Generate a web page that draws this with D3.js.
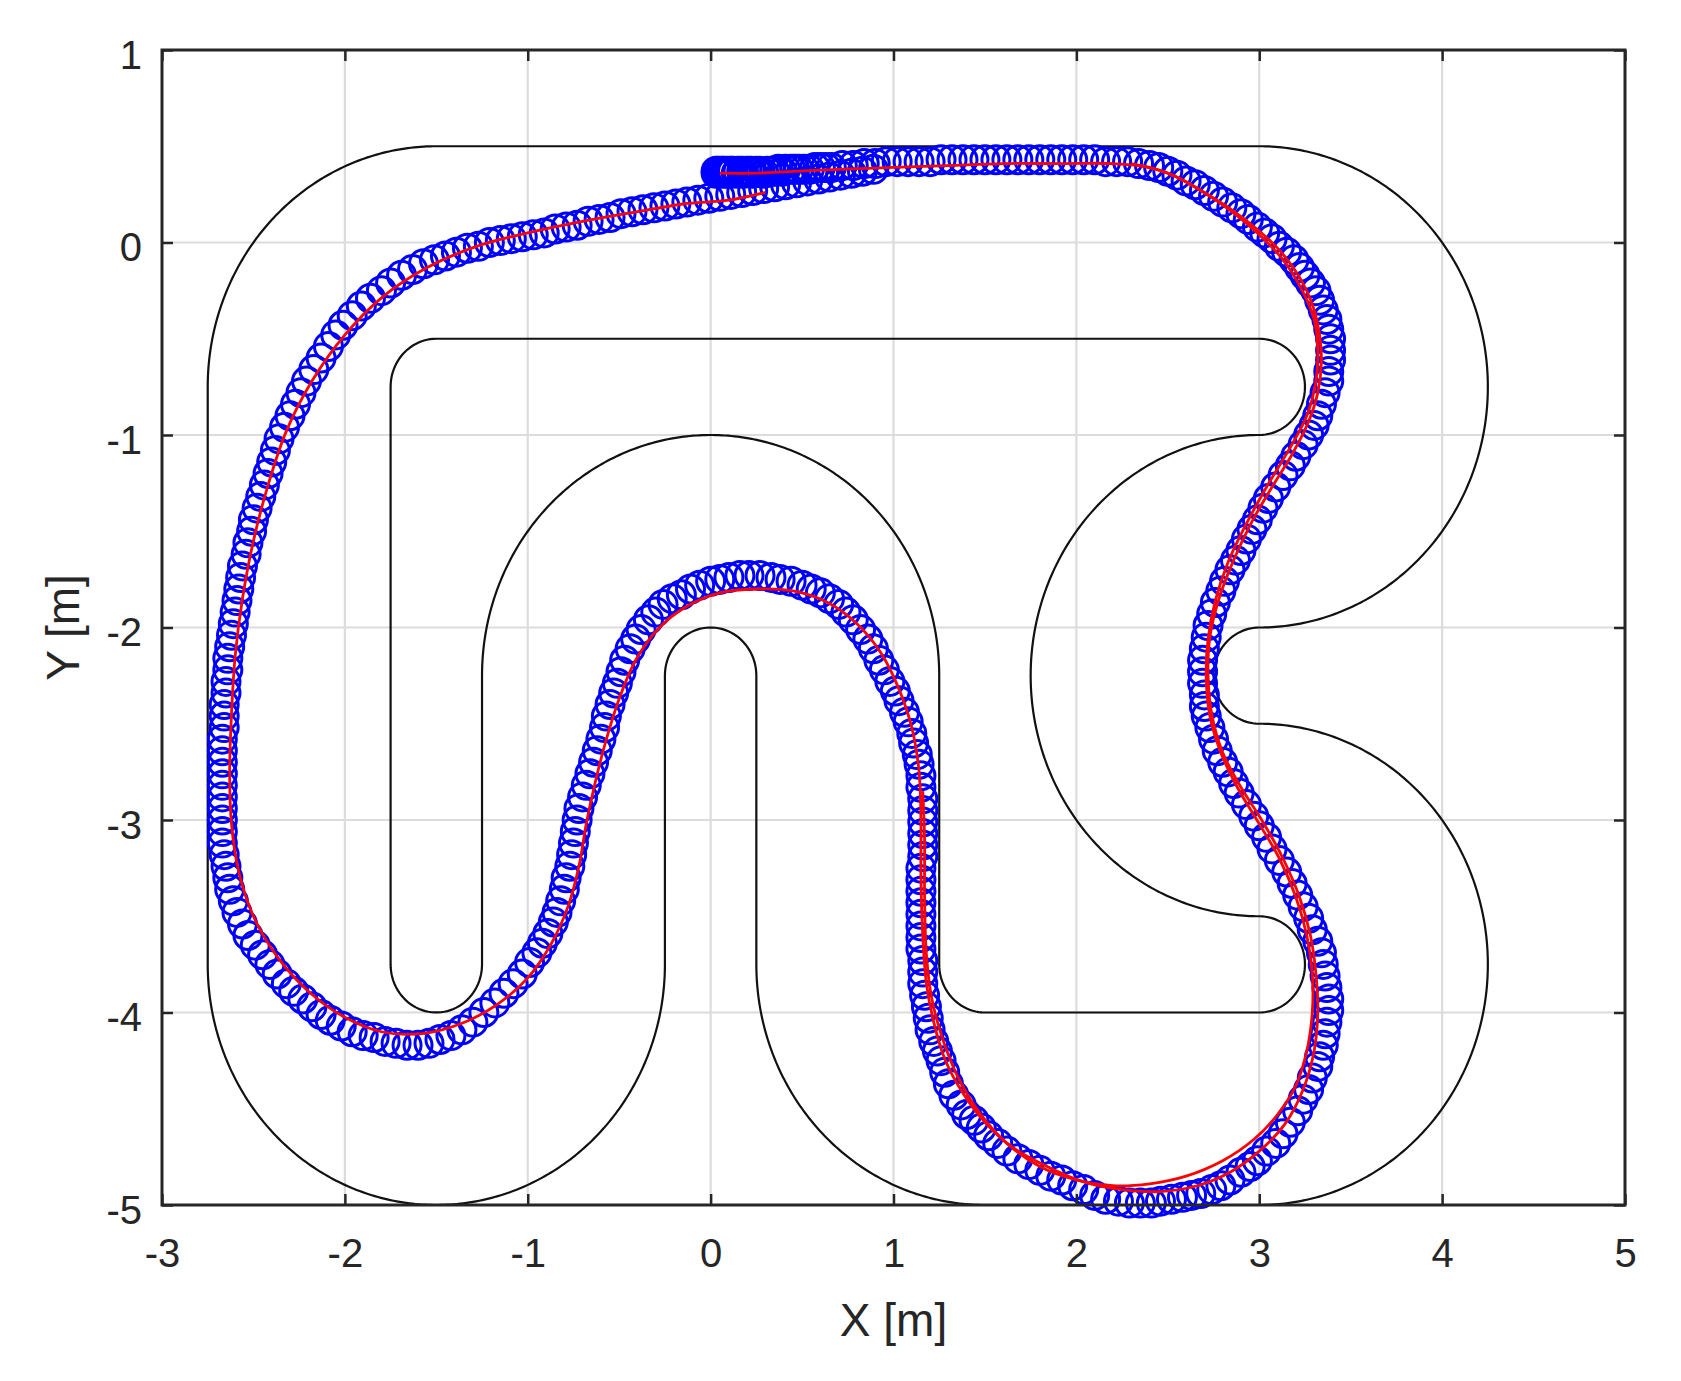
<!DOCTYPE html>
<html><head><meta charset="utf-8">
<script src="https://cdn.jsdelivr.net/npm/d3@7"></script>
<style>body{margin:0;background:#fff}svg{display:block}</style>
</head><body>
<svg id="chart" width="1681" height="1381"></svg>
<script>
// ---------- data ----------
const xDomain = [-3, 5];
const yDomain = [-5, 1];
const xTicks = [-3, -2, -1, 0, 1, 2, 3, 4, 5];
const yTicks = [1, 0, -1, -2, -3, -4, -5];
const xLabel = "X [m]";
const yLabel = "Y [m]";

// track boundaries: ["L", x1,y1,x2,y2] line, ["A", cx,cy,r,startDeg,endDeg] arc
const outerTrack = [
  ["L", -1.5, 0.5, 3, 0.5],
  ["A", 3, -0.75, 1.25, 90, -90],
  ["A", 3, -2.25, 0.25, 90, 270],
  ["A", 3, -3.75, 1.25, 90, -90],
  ["L", 3, -5, 1.5, -5],
  ["A", 1.5, -3.75, 1.25, -90, -180],
  ["L", 0.25, -3.75, 0.25, -2.25],
  ["A", 0, -2.25, 0.25, 0, 180],
  ["L", -0.25, -2.25, -0.25, -3.75],
  ["A", -1.5, -3.75, 1.25, 0, -180],
  ["L", -2.75, -3.75, -2.75, -0.75],
  ["A", -1.5, -0.75, 1.25, 180, 90]
];
const innerTrack = [
  ["L", -1.5, -0.5, 3, -0.5],
  ["A", 3, -0.75, 0.25, 90, -90],
  ["A", 3, -2.25, 1.25, 90, 270],
  ["A", 3, -3.75, 0.25, 90, -90],
  ["L", 3, -4, 1.5, -4],
  ["A", 1.5, -3.75, 0.25, -90, -180],
  ["L", 1.25, -3.75, 1.25, -2.25],
  ["A", 0, -2.25, 1.25, 0, 180],
  ["L", -1.25, -2.25, -1.25, -3.75],
  ["A", -1.5, -3.75, 0.25, 0, -180],
  ["L", -1.75, -3.75, -1.75, -0.75],
  ["A", -1.5, -0.75, 0.25, 180, 90]
];

// red trajectory, lap 1 (full loop) and lap 2 (right-hand part)
const redLap1 = [
  [0.05,0.36],[0.25,0.36],[0.45,0.37],[0.7,0.38],[1.0,0.39],[1.3,0.40],[1.6,0.41],[1.9,0.41],[2.2,0.41],[2.4,0.39],
  [2.55,0.34],[2.7,0.26],[2.85,0.17],[3.0,0.06],[3.12,-0.05],[3.22,-0.18],[3.29,-0.32],[3.33,-0.48],[3.34,-0.62],
  [3.32,-0.78],[3.27,-0.93],[3.18,-1.1],[3.07,-1.27],[2.96,-1.45],[2.86,-1.65],[2.78,-1.85],[2.73,-2.05],[2.72,-2.25],
  [2.74,-2.45],[2.8,-2.65],[2.9,-2.83],[3.02,-3.01],[3.13,-3.2],[3.22,-3.4],[3.28,-3.6],[3.31,-3.8],[3.32,-4.0],
  [3.3,-4.2],[3.24,-4.4],[3.14,-4.58],[3.0,-4.72],[2.84,-4.83],[2.66,-4.9],[2.46,-4.93],[2.25,-4.92],[2.04,-4.88],
  [1.84,-4.8],[1.65,-4.7],[1.5,-4.57],[1.38,-4.42],[1.28,-4.24],[1.22,-4.05],[1.18,-3.85],[1.16,-3.6],[1.15,-3.3],
  [1.15,-3.0],[1.14,-2.75],[1.1,-2.52],[1.03,-2.32],[0.93,-2.13],[0.8,-1.98],[0.64,-1.87],[0.45,-1.81],[0.25,-1.8],
  [0.05,-1.82],[-0.13,-1.89],[-0.29,-2.01],[-0.41,-2.17],[-0.5,-2.37],[-0.57,-2.58],[-0.63,-2.8],[-0.68,-3.02],
  [-0.72,-3.24],[-0.78,-3.45],[-0.87,-3.64],[-1.0,-3.82],[-1.17,-3.96],[-1.37,-4.06],[-1.58,-4.11],[-1.8,-4.1],
  [-2.01,-4.02],[-2.2,-3.89],[-2.37,-3.71],[-2.5,-3.5],[-2.58,-3.27],[-2.62,-3.02],[-2.63,-2.75],[-2.62,-2.45],
  [-2.6,-2.15],[-2.56,-1.85],[-2.5,-1.55],[-2.42,-1.26],[-2.32,-0.98],[-2.18,-0.72],[-2.0,-0.48],[-1.79,-0.28],
  [-1.55,-0.13],[-1.28,-0.02],[-1.0,0.05],[-0.7,0.11],[-0.4,0.16],[-0.15,0.2],[0.1,0.22],[0.3,0.26]
];
const redLap2 = [
  [2.3,0.41],[2.5,0.36],[2.68,0.27],[2.85,0.16],[3.0,0.04],[3.13,-0.09],[3.23,-0.24],[3.3,-0.4],[3.32,-0.56],
  [3.31,-0.72],[3.26,-0.9],[3.16,-1.08],[3.04,-1.27],[2.93,-1.46],[2.83,-1.66],[2.76,-1.86],[2.72,-2.06],[2.71,-2.26],
  [2.73,-2.46],[2.79,-2.65],[2.88,-2.83],[3.0,-3.02],[3.11,-3.2],[3.2,-3.4],[3.26,-3.6],[3.29,-3.8],[3.29,-4.0],
  [3.26,-4.2],[3.2,-4.38],[3.1,-4.53],[2.97,-4.66],[2.8,-4.77],[2.6,-4.85],[2.4,-4.89],[2.2,-4.9],[2.0,-4.87],
  [1.8,-4.8],[1.62,-4.68],[1.47,-4.52],[1.35,-4.33],[1.27,-4.14],[1.21,-3.93],[1.18,-3.7],[1.17,-3.4],[1.17,-3.1],[1.16,-2.85]
];

// blue markers (estimated positions)
const bluePoints = [
  [0.03,0.37],[0.03,0.36],[0.04,0.37],[0.05,0.36],[0.06,0.37],[0.07,0.37],[0.08,0.36],[0.09,0.37],[0.10,0.36],[0.11,0.37],
  [0.12,0.37],[0.14,0.36],[0.15,0.37],[0.17,0.37],[0.18,0.36],[0.20,0.37],[0.22,0.37],[0.23,0.36],[0.25,0.37],[0.27,0.37],
  [0.29,0.36],[0.31,0.37],[0.33,0.37],[0.35,0.37],[0.37,0.38],[0.39,0.37],[0.41,0.38],[0.44,0.38],[0.46,0.38],[0.48,0.38],
  [0.51,0.38],[0.54,0.38],[0.57,0.39],[0.60,0.39],[0.63,0.39],
  [0.66,0.39],[0.72,0.40],[0.78,0.40],[0.84,0.41],[0.90,0.41],[0.96,0.42],[1.02,0.42],[1.08,0.42],[1.14,0.42],[1.20,0.42],
  [1.26,0.43],[1.32,0.43],[1.38,0.43],[1.44,0.43],[1.50,0.43],[1.56,0.43],[1.62,0.43],[1.68,0.43],[1.74,0.43],[1.80,0.43],
  [1.86,0.43],[1.92,0.43],[1.98,0.43],[2.04,0.43],[2.10,0.43],[2.16,0.42],[2.22,0.42],[2.28,0.42],[2.34,0.41],[2.40,0.40],
  [2.45,0.39],[2.50,0.37],[2.55,0.35],[2.60,0.32],[2.65,0.30],[2.70,0.27],[2.75,0.24],[2.80,0.21],[2.85,0.18],[2.90,0.15],
  [2.94,0.12],[2.99,0.08],[3.03,0.05],[3.07,0.02],[3.11,-0.02],[3.15,-0.05],[3.19,-0.09],[3.22,-0.13],[3.25,-0.17],
  [3.28,-0.21],[3.31,-0.25],[3.33,-0.30],[3.35,-0.35],[3.37,-0.40],[3.38,-0.45],[3.39,-0.50],[3.39,-0.56],[3.39,-0.61],
  [3.38,-0.67],[3.38,-0.72],[3.36,-0.78],[3.34,-0.84],[3.32,-0.90],[3.30,-0.95],[3.27,-1.00],[3.24,-1.05],[3.20,-1.11],
  [3.17,-1.16],[3.13,-1.21],[3.09,-1.27],[3.05,-1.33],[3.02,-1.38],[2.99,-1.44],[2.96,-1.49],[2.93,-1.54],[2.90,-1.60],
  [2.87,-1.65],[2.84,-1.70],[2.81,-1.76],[2.79,-1.81],[2.76,-1.87],[2.74,-1.93],[2.72,-1.99],[2.71,-2.05],[2.70,-2.11],
  [2.69,-2.17],[2.69,-2.23],[2.69,-2.29],[2.70,-2.35],[2.70,-2.41],[2.71,-2.46],[2.73,-2.52],[2.75,-2.58],[2.77,-2.64],
  [2.80,-2.70],[2.83,-2.75],[2.86,-2.81],[2.89,-2.86],[2.93,-2.92],[2.97,-2.98],[3.00,-3.03],[3.04,-3.09],[3.07,-3.15],
  [3.11,-3.21],[3.15,-3.27],[3.18,-3.33],[3.21,-3.39],[3.24,-3.45],[3.27,-3.51],[3.29,-3.57],[3.32,-3.63],[3.34,-3.69],
  [3.35,-3.75],[3.36,-3.81],[3.37,-3.87],[3.38,-3.93],[3.38,-3.99],[3.37,-4.05],[3.36,-4.11],[3.35,-4.17],[3.33,-4.23],
  [3.32,-4.28],[3.29,-4.34],[3.27,-4.40],[3.24,-4.45],[3.21,-4.51],[3.17,-4.57],[3.13,-4.63],[3.09,-4.68],[3.04,-4.72],
  [2.99,-4.77],[2.95,-4.80],[2.90,-4.83],[2.84,-4.87],[2.79,-4.90],[2.74,-4.92],[2.68,-4.94],[2.63,-4.95],[2.58,-4.96],
  [2.52,-4.97],[2.46,-4.98],[2.41,-4.99],[2.35,-4.99],[2.29,-4.99],[2.23,-4.98],[2.16,-4.97],[2.10,-4.95],[2.04,-4.92],
  [1.98,-4.90],[1.92,-4.87],[1.86,-4.85],[1.80,-4.82],[1.74,-4.79],[1.68,-4.76],[1.62,-4.72],[1.57,-4.68],[1.52,-4.64],
  [1.48,-4.60],[1.44,-4.56],[1.40,-4.53],[1.37,-4.48],[1.33,-4.43],[1.30,-4.37],[1.28,-4.31],[1.26,-4.25],[1.24,-4.20],
  [1.22,-4.15],[1.20,-4.09],[1.19,-4.03],[1.18,-3.97],[1.17,-3.91],[1.16,-3.85],[1.16,-3.79],[1.16,-3.73],[1.15,-3.67],
  [1.15,-3.61],[1.15,-3.55],[1.15,-3.49],[1.15,-3.43],[1.15,-3.37],[1.15,-3.31],[1.15,-3.25],[1.16,-3.19],[1.16,-3.13],
  [1.16,-3.07],[1.16,-3.01],[1.16,-2.95],[1.16,-2.89],[1.15,-2.83],[1.15,-2.77],[1.14,-2.71],[1.13,-2.66],[1.11,-2.60],
  [1.10,-2.55],[1.08,-2.49],[1.06,-2.44],[1.03,-2.38],[1.01,-2.33],[0.98,-2.28],[0.95,-2.22],[0.92,-2.17],[0.89,-2.11],
  [0.86,-2.06],[0.82,-2.01],[0.78,-1.96],[0.74,-1.92],[0.70,-1.88],[0.65,-1.85],[0.60,-1.82],[0.55,-1.80],[0.50,-1.78],
  [0.44,-1.76],[0.38,-1.75],[0.33,-1.74],[0.27,-1.73],[0.21,-1.73],[0.16,-1.73],[0.10,-1.74],[0.05,-1.75],[0.00,-1.76],
  [-0.06,-1.78],[-0.11,-1.80],[-0.16,-1.83],[-0.21,-1.85],[-0.26,-1.88],[-0.30,-1.92],[-0.34,-1.96],[-0.38,-2.01],
  [-0.41,-2.06],[-0.44,-2.11],[-0.47,-2.17],[-0.49,-2.23],[-0.51,-2.29],[-0.53,-2.34],[-0.55,-2.40],[-0.57,-2.46],
  [-0.58,-2.52],[-0.60,-2.58],[-0.62,-2.64],[-0.64,-2.70],[-0.66,-2.76],[-0.68,-2.82],[-0.70,-2.88],[-0.72,-2.94],
  [-0.73,-3.00],[-0.74,-3.06],[-0.75,-3.12],[-0.76,-3.18],[-0.77,-3.24],[-0.79,-3.30],[-0.80,-3.36],[-0.82,-3.42],
  [-0.84,-3.48],[-0.86,-3.53],[-0.89,-3.59],[-0.92,-3.64],[-0.95,-3.69],[-0.99,-3.74],[-1.03,-3.80],[-1.08,-3.85],
  [-1.13,-3.90],[-1.18,-3.95],[-1.24,-4.00],[-1.30,-4.05],[-1.36,-4.09],[-1.42,-4.12],[-1.48,-4.14],[-1.54,-4.16],
  [-1.60,-4.17],[-1.66,-4.17],[-1.72,-4.16],[-1.78,-4.15],[-1.84,-4.13],[-1.90,-4.12],[-1.96,-4.10],[-2.02,-4.07],
  [-2.08,-4.04],[-2.13,-4.01],[-2.18,-3.97],[-2.23,-3.93],[-2.28,-3.89],[-2.32,-3.85],[-2.37,-3.80],[-2.41,-3.75],
  [-2.45,-3.70],[-2.49,-3.65],[-2.53,-3.60],[-2.56,-3.54],[-2.59,-3.48],[-2.61,-3.42],[-2.63,-3.36],[-2.64,-3.30],
  [-2.65,-3.24],[-2.66,-3.18],[-2.67,-3.12],[-2.67,-3.06],[-2.67,-3.00],[-2.67,-2.94],[-2.67,-2.88],[-2.67,-2.82],
  [-2.67,-2.76],[-2.67,-2.70],[-2.67,-2.64],[-2.67,-2.58],[-2.66,-2.52],[-2.66,-2.46],[-2.66,-2.40],[-2.65,-2.34],
  [-2.65,-2.28],[-2.64,-2.22],[-2.64,-2.16],[-2.63,-2.10],[-2.62,-2.04],[-2.61,-1.98],[-2.60,-1.92],[-2.59,-1.86],
  [-2.58,-1.80],[-2.57,-1.74],[-2.56,-1.68],[-2.54,-1.62],[-2.53,-1.56],[-2.51,-1.50],[-2.50,-1.44],[-2.48,-1.38],
  [-2.46,-1.32],[-2.44,-1.26],[-2.42,-1.20],[-2.40,-1.14],[-2.38,-1.08],[-2.36,-1.02],[-2.33,-0.96],[-2.30,-0.90],
  [-2.27,-0.84],[-2.24,-0.78],[-2.21,-0.72],[-2.17,-0.66],[-2.13,-0.60],[-2.09,-0.54],[-2.05,-0.48],[-2.01,-0.43],
  [-1.96,-0.38],[-1.91,-0.33],[-1.86,-0.29],[-1.80,-0.25],[-1.75,-0.21],[-1.69,-0.17],[-1.63,-0.14],[-1.57,-0.11],
  [-1.51,-0.09],[-1.45,-0.07],[-1.39,-0.05],[-1.33,-0.03],[-1.27,-0.02],[-1.21,0.00],[-1.15,0.01],[-1.09,0.02],
  [-1.03,0.03],[-0.97,0.04],[-0.91,0.05],[-0.85,0.07],[-0.79,0.08],[-0.73,0.09],[-0.67,0.11],[-0.61,0.12],[-0.55,0.13],
  [-0.49,0.15],[-0.43,0.16],[-0.37,0.17],[-0.31,0.18],[-0.25,0.19],[-0.19,0.20],[-0.13,0.21],[-0.07,0.22],[-0.01,0.23],
  [0.05,0.24],[0.11,0.25],[0.17,0.26],[0.23,0.27],[0.29,0.28],[0.35,0.29],[0.41,0.30],[0.47,0.31],[0.53,0.32],[0.59,0.33],
  [0.65,0.34],[0.71,0.35],[0.77,0.36],[0.83,0.37],[0.89,0.38]
];

// ---------- layout ----------
const plot = {left: 162, right: 1625, top: 50, bottom: 1205};
const font = "'Liberation Sans', Arial, Helvetica, sans-serif";
const ink = "#262626";

const svg = d3.select("#chart");
const x = d3.scaleLinear().domain(xDomain).range([plot.left, plot.right]);
const y = d3.scaleLinear().domain(yDomain).range([plot.bottom, plot.top]);

svg.append("rect").attr("width", 1681).attr("height", 1381).attr("fill", "#fff");

// grid
const grid = svg.append("g").attr("stroke", "#dcdcdc").attr("stroke-width", 2.2);
grid.selectAll(".gx").data(xTicks.slice(1, -1)).join("line")
  .attr("x1", d => x(d)).attr("x2", d => x(d)).attr("y1", plot.top).attr("y2", plot.bottom);
grid.selectAll(".gy").data(yTicks.slice(1, -1)).join("line")
  .attr("y1", d => y(d)).attr("y2", d => y(d)).attr("x1", plot.left).attr("x2", plot.right);

// track geometry -> points
function segPoints(seg) {
  if (seg[0] === "L") return [[seg[1], seg[2]], [seg[3], seg[4]]];
  const [, cx, cy, r, a0, a1] = seg;
  const n = Math.max(8, Math.round(Math.abs(a1 - a0) * r));
  return d3.range(n + 1).map(i => {
    const a = (a0 + (a1 - a0) * i / n) * Math.PI / 180;
    return [cx + r * Math.cos(a), cy + r * Math.sin(a)];
  });
}
const lineGen = d3.line().x(d => x(d[0])).y(d => y(d[1]));
[outerTrack, innerTrack].forEach(track => {
  const pts = track.flatMap(segPoints);
  svg.append("path").attr("d", lineGen(pts) + "Z")
    .attr("fill", "none").attr("stroke", "#111").attr("stroke-width", 2.2);
});

// blue markers
svg.append("g").selectAll("circle").data(bluePoints).join("circle")
  .attr("cx", d => x(d[0])).attr("cy", d => y(d[1])).attr("r", 14)
  .attr("fill", "none").attr("stroke", "#0000ff").attr("stroke-width", 3);

// red lines
const smooth = d3.line().x(d => x(d[0])).y(d => y(d[1])).curve(d3.curveCatmullRom.alpha(0.5));
[redLap1, redLap2].forEach(lap => {
  svg.append("path").attr("d", smooth(lap)).attr("fill", "none")
    .attr("stroke", "#ff0000").attr("stroke-width", 2.8);
});

// axes
const fmt = d => String(d);
const tickLen = 11;
const gx = svg.append("g").attr("transform", `translate(0,${plot.bottom})`)
  .call(d3.axisBottom(x).tickValues(xTicks).tickFormat(fmt).tickSizeInner(-tickLen).tickSizeOuter(0).tickPadding(34));
const gy = svg.append("g").attr("transform", `translate(${plot.left},0)`)
  .call(d3.axisLeft(y).tickValues(yTicks).tickFormat(fmt).tickSizeInner(-tickLen).tickSizeOuter(0).tickPadding(20));
const gt = svg.append("g").attr("transform", `translate(0,${plot.top})`)
  .call(d3.axisTop(x).tickValues(xTicks).tickFormat("").tickSizeInner(-tickLen).tickSizeOuter(0));
const gr = svg.append("g").attr("transform", `translate(${plot.right},0)`)
  .call(d3.axisRight(y).tickValues(yTicks).tickFormat("").tickSizeInner(-tickLen).tickSizeOuter(0));
[gx, gy, gt, gr].forEach(g => {
  g.select(".domain").remove();
  g.selectAll(".tick line").attr("stroke", ink).attr("stroke-width", 2.5);
  g.selectAll("text").attr("fill", ink).attr("font-family", font).attr("font-size", 40);
});
gy.selectAll("text").attr("dy", "0.45em");

svg.append("rect").attr("x", plot.left).attr("y", plot.top)
  .attr("width", plot.right - plot.left).attr("height", plot.bottom - plot.top)
  .attr("fill", "none").attr("stroke", ink).attr("stroke-width", 3);

// axis labels
svg.append("text").attr("x", (plot.left + plot.right) / 2).attr("y", 1336)
  .attr("text-anchor", "middle").attr("font-family", font).attr("font-size", 46)
  .attr("fill", ink).text(xLabel);
svg.append("text").attr("transform", `translate(79,${(plot.top + plot.bottom) / 2}) rotate(-90)`)
  .attr("text-anchor", "middle").attr("font-family", font).attr("font-size", 46)
  .attr("fill", ink).text(yLabel);
</script>
</body></html>
